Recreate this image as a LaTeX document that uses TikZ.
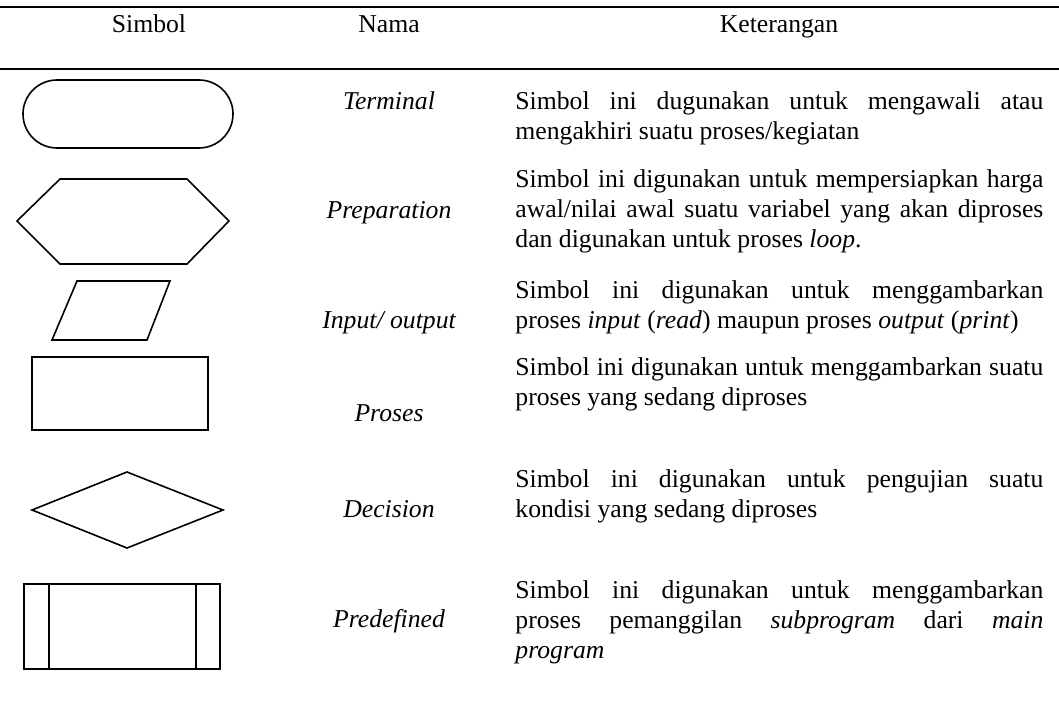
\documentclass[tikz,border=0pt]{standalone}
\usepackage{fontspec}
\setmainfont{Liberation Serif}
\newcommand{\tabfont}{\fontsize{12.85}{15}\selectfont\hyphenpenalty=10000}

\begin{document}
\begin{tikzpicture}[x=0.5pt, y=-0.5pt,
  simbol/.style={draw, line width=0.8pt},
  garis/.style={line width=1pt},
  judul/.style={anchor=base, inner sep=0pt, font=\tabfont},
  nama/.style={anchor=base, inner sep=0pt, font=\tabfont\itshape},
  ket/.style={anchor=base west, inner sep=0pt, text width=264pt, align=justify, font=\tabfont}]

\useasboundingbox (0,0) rectangle (1059,701);

% garis tabel
\coordinate (L1) at (0,7.5);
\coordinate (R1) at (1059,7.5);
\coordinate (L2) at (0,69);
\coordinate (R2) at (1059,69);

\draw[garis] (L1) -- (R1);
\draw[garis] (L2) -- (R2);

% judul kolom
\node[judul] (hSimbol) at (149,33) {Simbol};
\node[judul] (hNama) at (389,33) {Nama};
\node[judul] (hKet) at (779,33) {Keterangan};

% simbol
\coordinate (T1) at (23,80);
\coordinate (T2) at (233,148);
\draw[simbol, rounded corners=17pt] (T1) rectangle (T2);

\draw[simbol] (17,221) -- (60,179) -- (187,179) -- (229,221) -- (187,264) -- (60,264) -- cycle;

\draw[simbol] (77,281) -- (170,281) -- (147,340) -- (52,340) -- cycle;

\coordinate (P1) at (32,357);
\coordinate (P2) at (208,430);
\draw[simbol] (P1) rectangle (P2);

\draw[simbol] (32,510) -- (127,472) -- (223,510) -- (127,548) -- cycle;

\coordinate (D1) at (24,584);
\coordinate (D2) at (220,669);
\draw[simbol] (D1) rectangle (D2);
\draw[simbol] (49,584) -- (49,669);
\draw[simbol] (196,584) -- (196,669);

% nama
\node[nama] (nTerminal) at (389,110) {Terminal};
\node[nama] (nPreparation) at (389,218) {Preparation};
\node[nama] (nInput) at (389,328) {Input/ output};
\node[nama] (nProses) at (389,421) {Proses};
\node[nama] (nDecision) at (389,517) {Decision};
\node[nama] (nPredefined) at (389,627) {Predefined};

% keterangan
\node[ket] (kTerminal) at (515,110)
  {Simbol ini dugunakan untuk mengawali atau\linebreak mengakhiri suatu proses/kegiatan};
\node[ket] (kPreparation) at (515,187)
  {Simbol ini digunakan untuk mempersiapkan harga\linebreak awal/nilai awal suatu variabel yang akan diproses\linebreak dan digunakan untuk proses \textit{loop}.};
\node[ket] (kInput) at (515,298)
  {Simbol ini digunakan untuk menggambarkan\linebreak proses \textit{input} (\textit{read}) maupun proses \textit{output} (\textit{print})};
\node[ket] (kProses) at (515,375)
  {Simbol ini digunakan untuk menggambarkan suatu\linebreak proses yang sedang diproses};
\node[ket] (kDecision) at (515,487)
  {Simbol ini digunakan untuk pengujian suatu\linebreak kondisi yang sedang diproses};
\node[ket] (kPredefined) at (515,598)
  {Simbol ini digunakan untuk menggambarkan\linebreak proses pemanggilan \textit{subprogram} dari \textit{main}\linebreak \textit{program}};

\end{tikzpicture}
\end{document}
